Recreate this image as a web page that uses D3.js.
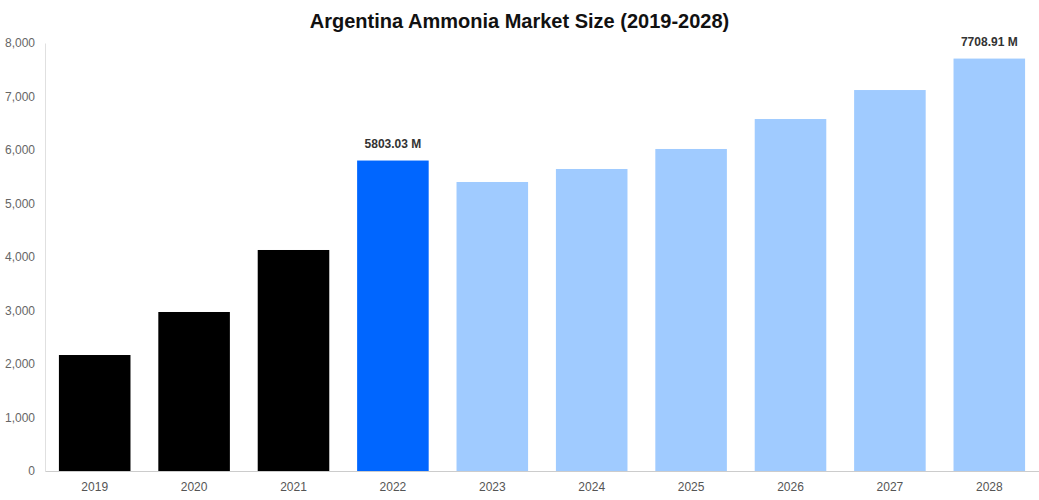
<!DOCTYPE html>
<html><head><meta charset="utf-8">
<script src="https://cdn.jsdelivr.net/npm/d3@7"></script>
<style>body{margin:0;background:#fff;font-family:"Liberation Sans",Arial,sans-serif}</style>
</head><body><svg id="c" width="1039" height="500"></svg>
<script>
const years=["2019","2020","2021","2022","2023","2024","2025","2026","2027","2028"];
const values=[2168,2972,4131,5803.03,5402,5645,6019,6579,7121,7708.91];
const colors=["#000000","#000000","#000000","#0066ff","#a0cbff","#a0cbff","#a0cbff","#a0cbff","#a0cbff","#a0cbff"];
const labelled={"2022":"5803.03 M","2028":"7708.91 M"};
const yTicks=[0,1000,2000,3000,4000,5000,6000,7000,8000];

const svg=d3.select("#c");
const m={l:45,r:0,t:43,b:29},W=1039,H=500;
const x=d3.scaleBand().domain(years).range([m.l,W-m.r]).paddingInner(0.28).paddingOuter(0.14);
const y=d3.scaleLinear().domain([0,8000]).range([H-m.b,m.t]);

svg.append("text").attr("x",519.5).attr("y",28).attr("text-anchor","middle")
 .attr("font-size",20).attr("font-weight","bold").attr("fill","#111").text("Argentina Ammonia Market Size (2019-2028)");

const ya=svg.append("g").attr("transform",`translate(${m.l},0)`)
 .call(d3.axisLeft(y).tickValues(yTicks).tickSize(0).tickPadding(10).tickFormat(d3.format(",")));
ya.select(".domain").attr("stroke","#e0e0e0");
ya.selectAll("text").attr("fill","#666").attr("font-size",12);

svg.selectAll("rect.b").data(years).join("rect")
 .attr("x",d=>x(d)).attr("width",x.bandwidth())
 .attr("y",(d,i)=>y(values[i])).attr("height",(d,i)=>y(0)-y(values[i]))
 .attr("fill",(d,i)=>colors[i]);

const xa=svg.append("g").attr("transform",`translate(0,${H-m.b})`)
 .call(d3.axisBottom(x).tickSize(0).tickPadding(11));
xa.select(".domain").attr("stroke","#ccc");
xa.selectAll("text").attr("fill","#555").attr("font-size",12);

years.forEach((d,i)=>{ if(labelled[d]) svg.append("text").attr("x",x(d)+x.bandwidth()/2).attr("y",y(values[i])-13)
 .attr("text-anchor","middle").attr("font-size",12).attr("font-weight","bold").attr("fill","#333").text(labelled[d]);});
</script></body></html>
